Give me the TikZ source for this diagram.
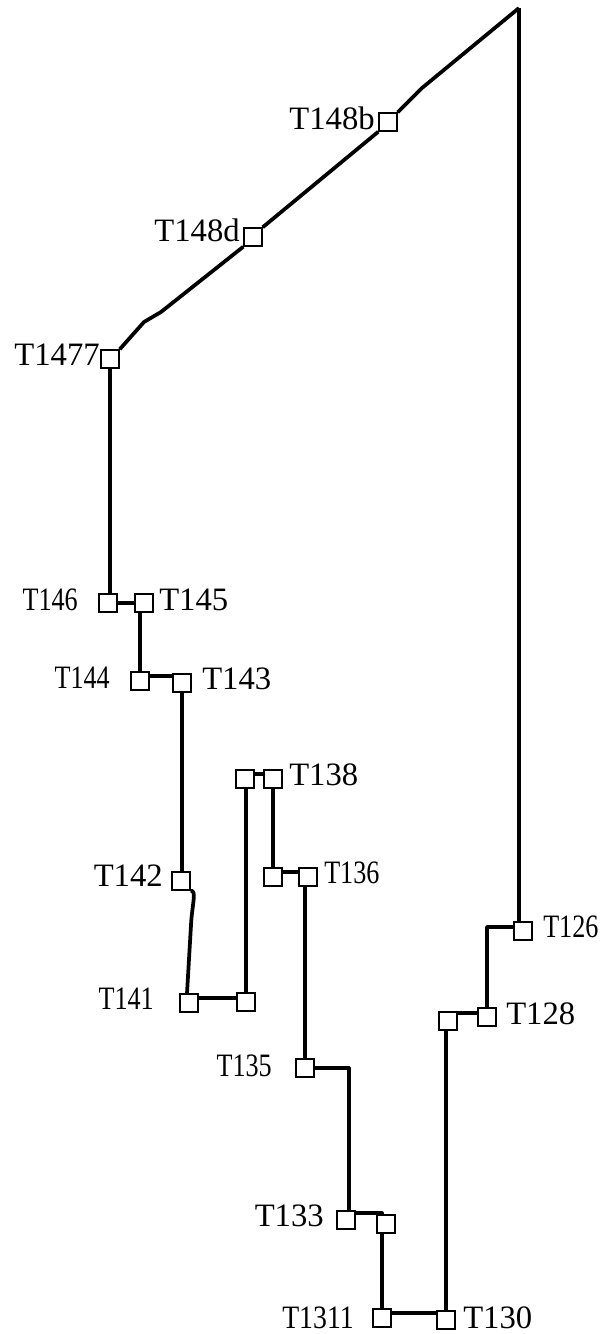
\documentclass[tikz,border=0pt]{standalone}
\usepackage{fontspec}
\setmainfont{Liberation Serif}
\usepackage{graphicx}
\usetikzlibrary{backgrounds,calc}
\tikzset{
  bx/.style={draw, line width=1.6pt, fill=white, minimum size=13pt, inner sep=0pt},
  lbl/.style={inner sep=0pt, font=\fontsize{24.5}{24.5}\selectfont},
  wire/.style={line width=2.8pt, line join=round},
}
\newcommand{\narrow}[1]{\scalebox{0.8}[1]{#1}}
\begin{document}
\begin{tikzpicture}[x=0.75pt,y=-0.75pt]
\useasboundingbox (0,0) rectangle (603,1334);
% boxes
\node[bx] (T148b) at (388,122) {};
\node[bx] (T148d) at (253,237) {};
\node[bx] (T1477) at (110,359) {};
\node[bx] (T146) at (108,603) {};
\node[bx] (T145) at (144,603) {};
\node[bx] (T144) at (140,681) {};
\node[bx] (T143) at (182,683) {};
\node[bx] (T142) at (181,881) {};
\node[bx] (T141) at (189,1003) {};
\node[bx] (U141) at (246,1002) {};
\node[bx] (U138) at (245,779) {};
\node[bx] (T138) at (273,779) {};
\node[bx] (U136) at (273,877) {};
\node[bx] (T136) at (308,877) {};
\node[bx] (T135) at (305,1068) {};
\node[bx] (T133) at (346,1220) {};
\node[bx] (U133) at (386,1224) {};
\node[bx] (T1311) at (382,1318) {};
\node[bx] (T130) at (446,1320) {};
\node[bx] (U128) at (448,1021) {};
\node[bx] (T128) at (487,1017) {};
\node[bx] (T126) at (523,931) {};
\coordinate (top) at (519,8);
\coordinate (b1) at (422,88);
\coordinate (b2a) at (161,312);
\coordinate (b2) at (144,322);
% labels
\node[lbl, anchor=east] (lT148b) at (375,118) {T148b};
\node[lbl, anchor=east] (lT148d) at (240,230) {T148d};
\node[lbl, anchor=east] (lT1477) at (100,355) {T1477};
\node[lbl, anchor=east] (lT146) at (78,600) {\narrow{T146}};
\node[lbl, anchor=west] (lT145) at (159,600) {T145};
\node[lbl, anchor=east] (lT144) at (110,678) {\narrow{T144}};
\node[lbl, anchor=west] (lT143) at (202,679) {T143};
\node[lbl, anchor=west] (lT138) at (289,775) {T138};
\node[lbl, anchor=east] (lT142) at (163,876) {T142};
\node[lbl, anchor=west] (lT136) at (324,873) {\narrow{T136}};
\node[lbl, anchor=east] (lT141) at (154,999) {\narrow{T141}};
\node[lbl, anchor=east] (lT135) at (272,1066) {\narrow{T135}};
\node[lbl, anchor=east] (lT133) at (324,1216) {T133};
\node[lbl, anchor=east] (lT1311) at (354,1318) {\scalebox{0.85}[1]{T1311}};
\node[lbl, anchor=west] (lT130) at (463,1318) {T130};
\node[lbl, anchor=west] (lT128) at (506,1014) {T128};
\node[lbl, anchor=west] (lT126) at (543,927) {\narrow{T126}};
% connectors
\begin{scope}[on background layer]
\draw[wire] (top) -- (b1) -- (T148b.north east);
\draw[wire] (T148b.south west) -- (T148d.north east);
\draw[wire] (T148d.south west) -- (b2a) -- (b2) -- (T1477.north east);
\draw[wire] (T1477.south) -- (T1477.south |- T146.north);
\draw[wire] (T146) -- (T145);
\draw[wire] (T144.north) -- (T144.north |- T145.south);
\draw[wire] ([yshift=4pt]T144.east) -- ([yshift=4pt]T144.east -| T143.west);
\draw[wire] (T143.south) -- (T143.south |- T142.north);
\draw[wire] (T142.south east) .. controls (197,890) and (192,905) .. (191,925) -- ([xshift=-1.5pt]T141.north);
\draw[wire] ([yshift=4pt]T141.east) -- ([yshift=4pt]T141.east -| U141.west);
\draw[wire] (U141.north) -- (U141.north |- U138.south);
\draw[wire] ([yshift=4pt]U138.east) -- ([yshift=4pt]U138.east -| T138.west);
\draw[wire] (T138.south) -- (T138.south |- U136.north);
\draw[wire] ([yshift=4pt]U136.east) -- ([yshift=4pt]U136.east -| T136.west);
\draw[wire] (T135.north) -- (T135.north |- T136.south);
\draw[wire] (T135.east) -| ([xshift=2pt]T133.north);
\draw[wire] ([yshift=5pt]T133.east) -| ([xshift=-3pt]U133.north);
\draw[wire] ([xshift=-3pt]U133.south) -- ([xshift=-3pt]U133.south |- T1311.north);
\draw[wire] ([yshift=4pt]T1311.east) -- ([yshift=4pt]T1311.east -| T130.west);
\draw[wire] (T130.north) -- (T130.north |- U128.south);
\draw[wire] ([yshift=6pt]U128.east) -- ([yshift=6pt]U128.east -| T128.west);
\draw[wire] (T128.north) |- ([yshift=3pt]T126.west);
\draw[wire] (top) -- (top |- T126.north);
\end{scope}
\end{tikzpicture}
\end{document}
